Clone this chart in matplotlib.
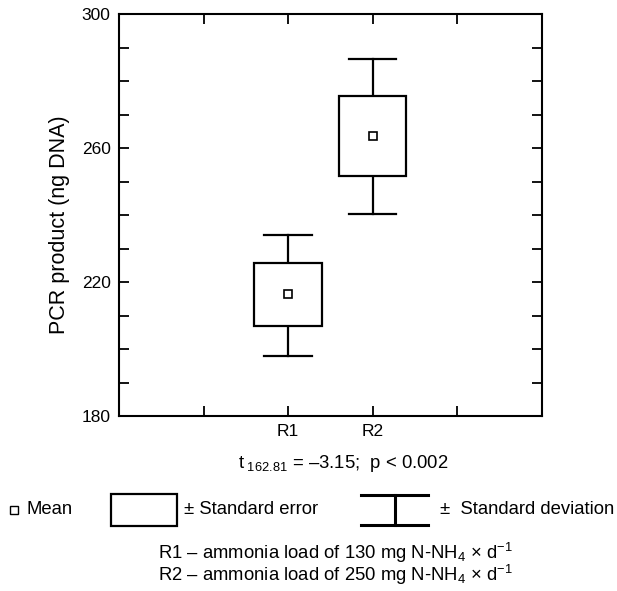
#!/usr/bin/env python3
"""
PCR product per reactor: mean, standard error box and standard deviation whiskers
"""

import matplotlib
matplotlib.use('Agg')
import matplotlib.pyplot as plt
from matplotlib.patches import Rectangle
from matplotlib.ticker import MultipleLocator

plt.rcParams['font.family'] = ['Liberation Sans', 'DejaVu Sans']
plt.rcParams['mathtext.fontset'] = 'custom'
plt.rcParams['mathtext.rm'] = 'Liberation Sans'
plt.rcParams['mathtext.it'] = 'Liberation Sans'

# data
groups = ['R1', 'R2']
group_pos = [2, 3]
means = [216.3, 263.6]
se_low = [206.9, 251.7]
se_high = [225.6, 275.4]
sd_low = [197.9, 240.4]
sd_high = [234.0, 286.7]

x_ticks = [1, 2, 3, 4]
x_ticklabels = ['', 'R1', 'R2', '']
y_ticks = [180, 220, 260, 300]

W, H = 617, 591
fig = plt.figure(figsize=(W / 100, H / 100), dpi=100)
ax = fig.add_axes([119 / W, 1 - 416 / H, (541.5 - 119) / W, (416 - 14) / H])

box_half = 0.4
cap_half = 0.28
for x, m, lo, hi, dlo, dhi in zip(group_pos, means, se_low, se_high, sd_low, sd_high):
    ax.add_patch(Rectangle((x - box_half, lo), 2 * box_half, hi - lo,
                           edgecolor='black', facecolor='white', linewidth=1.6, zorder=2))
    ax.plot([x, x], [hi, dhi], color='black', lw=1.6, zorder=1)
    ax.plot([x, x], [lo, dlo], color='black', lw=1.6, zorder=1)
    ax.plot([x - cap_half, x + cap_half], [dhi, dhi], color='black', lw=1.6)
    ax.plot([x - cap_half, x + cap_half], [dlo, dlo], color='black', lw=1.6)
    ax.plot([x], [m], marker='s', markersize=5.5, markerfacecolor='white',
            markeredgecolor='black', markeredgewidth=1.2, zorder=3)

ax.set_xlim(0, 5)
ax.set_ylim(180, 300)
ax.set_xticks(x_ticks)
ax.set_xticklabels(x_ticklabels)
ax.set_yticks(y_ticks)
ax.yaxis.set_minor_locator(MultipleLocator(10))
ax.tick_params(which='both', direction='in', top=True, right=True,
               length=7, width=1.3, labelsize=12.5, pad=6)
for s in ax.spines.values():
    s.set_linewidth(1.5)
ax.set_ylabel('PCR product (ng DNA)', fontsize=15.5, va='center')
ax.yaxis.set_label_coords(-0.142, 0.476)

# overlay in pixel coordinates for the legend and notes
ov = fig.add_axes([0, 0, 1, 1], facecolor='none')
ov.set_xlim(0, W)
ov.set_ylim(H, 0)
ov.axis('off')

fs = 13.3
ov.text(343, 464, r'$\mathregular{t_{\ 162.81}}$ = –3.15;  p < 0.002',
        ha='center', va='center', fontsize=fs)

# legend: mean square
ov.plot([14], [510], marker='s', markersize=5.5, markerfacecolor='white',
        markeredgecolor='black', markeredgewidth=1.0)
ov.text(27, 510, 'Mean', ha='left', va='center', fontsize=fs)
# legend: standard error box
ov.add_patch(Rectangle((111, 494), 66, 32, edgecolor='black', facecolor='white', linewidth=1.6))
ov.text(184, 510, '± Standard error', ha='left', va='center', fontsize=fs)
# legend: standard deviation whisker
ov.plot([361, 428], [495, 495], color='black', lw=2.2)
ov.plot([361, 428], [525, 525], color='black', lw=2.2)
ov.plot([395, 395], [495, 525], color='black', lw=2.2)
ov.text(440, 510, '±  Standard deviation', ha='left', va='center', fontsize=fs)

notes = [r'R1 – ammonia load of 130 mg N-NH$_4$ × d$^{-1}$',
         r'R2 – ammonia load of 250 mg N-NH$_4$ × d$^{-1}$']
ov.text(335, 564, '\n'.join(notes), ha='center', va='center',
        multialignment='center', fontsize=fs, linespacing=0.9)

fig.savefig('out.png', dpi=100)
